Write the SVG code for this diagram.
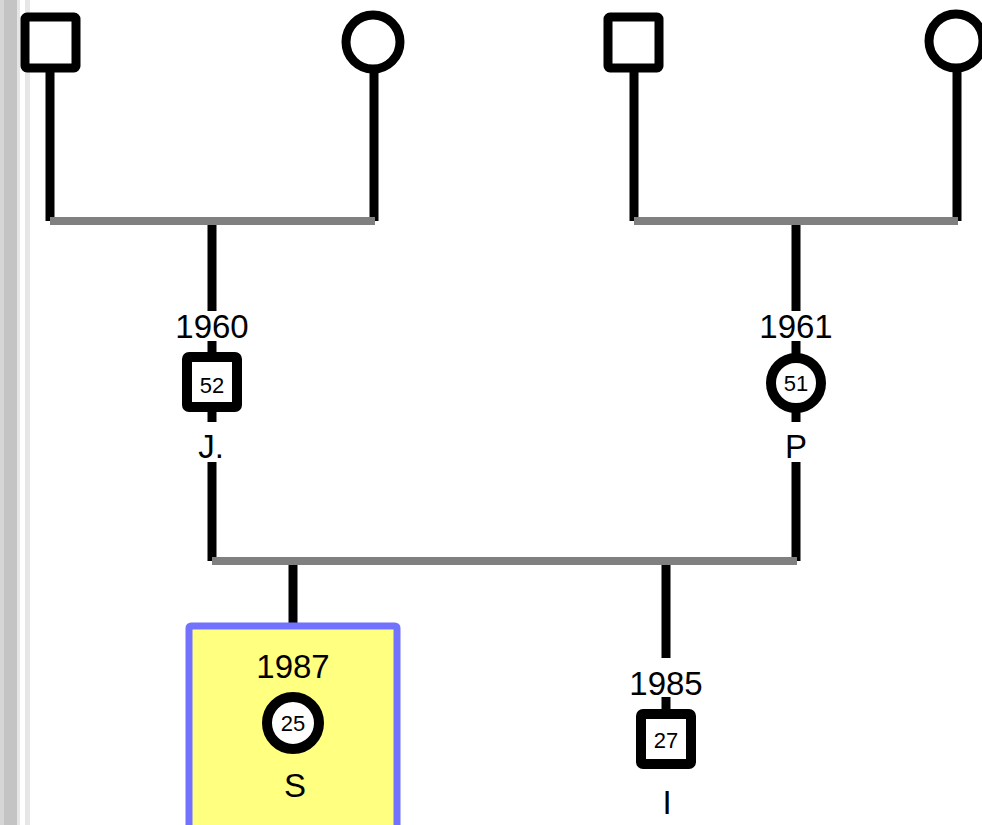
<svg xmlns="http://www.w3.org/2000/svg" width="982" height="825" viewBox="0 0 982 825">
<style>
.v{stroke:#000;stroke-width:9;fill:none}
.h{stroke:#808080;stroke-width:8;fill:none}
.sq{fill:#fff;stroke:#000;stroke-width:9;stroke-linejoin:round}
.sq2{fill:#fff;stroke:#000;stroke-width:10;stroke-linejoin:round}
.ci{fill:#fff;stroke:#000;stroke-width:9}
.ci2{fill:#fff;stroke:#000;stroke-width:10}
.yr{font-family:"Liberation Sans",Arial,sans-serif;font-size:33px;fill:#000;text-anchor:middle}
.age{font-family:"Liberation Sans",Arial,sans-serif;font-size:22px;fill:#000;text-anchor:middle}
.nm{font-family:"Liberation Sans",Arial,sans-serif;font-size:33px;fill:#000;text-anchor:middle}
</style>
<rect x="0" y="0" width="982" height="825" fill="#fff"/>
<g id="sidebar">
<rect x="0" y="0" width="4" height="825" fill="#d6d6d6"/>
<rect x="4" y="0" width="13" height="825" fill="#c4c4c4"/>
<rect x="17" y="0" width="3" height="825" fill="#e6e6e6"/>
<rect x="25" y="0" width="5" height="825" fill="#e6e6e6"/>
</g>
<g id="connectors">
<line class="v" x1="50" y1="70" x2="50" y2="221"/>
<line class="v" x1="374" y1="70" x2="374" y2="221"/>
<line class="h" x1="50" y1="221" x2="375" y2="221"/>
<line class="v" x1="634" y1="70" x2="634" y2="221"/>
<line class="v" x1="957" y1="70" x2="957" y2="221"/>
<line class="h" x1="634" y1="221" x2="958" y2="221"/>
<line class="v" x1="212" y1="225" x2="212" y2="311"/>
<line class="v" x1="212" y1="341" x2="212" y2="356"/>
<line class="v" x1="212" y1="408" x2="212" y2="422"/>
<line class="v" x1="212" y1="462" x2="212" y2="561"/>
<line class="v" x1="796" y1="225" x2="796" y2="311"/>
<line class="v" x1="796" y1="341" x2="796" y2="356"/>
<line class="v" x1="796" y1="408" x2="796" y2="422"/>
<line class="v" x1="796" y1="462" x2="796" y2="561"/>
<line class="h" x1="212" y1="561" x2="797" y2="561"/>
<line class="v" x1="293" y1="565" x2="293" y2="624"/>
<line class="v" x1="666" y1="565" x2="666" y2="658"/>
<line class="v" x1="666" y1="697" x2="666" y2="712"/>
</g>
<g id="gf1"><rect class="sq" x="25" y="17" width="51" height="51" rx="2"/></g>
<g id="gm1"><circle class="ci" cx="373" cy="42" r="27"/></g>
<g id="gf2"><rect class="sq" x="608" y="17" width="51" height="51" rx="2"/></g>
<g id="gm2"><circle class="ci" cx="956" cy="41" r="27"/></g>
<g id="j">
<text class="yr" x="212" y="338">1960</text>
<rect class="sq2" x="187" y="357" width="50" height="50" rx="2"/>
<text class="age" x="212" y="393">52</text>
<text class="nm" x="211" y="458">J.</text>
</g>
<g id="p">
<text class="yr" x="796" y="338">1961</text>
<circle class="ci2" cx="796" cy="383" r="25"/>
<text class="age" x="796" y="391">51</text>
<text class="nm" x="796" y="458">P</text>
</g>
<g id="s">
<rect x="189" y="626" width="208" height="203" fill="#ffff80" stroke="#7272ff" stroke-width="7" rx="2"/>
<text class="yr" x="293" y="678">1987</text>
<circle class="ci2" cx="293" cy="723" r="26"/>
<text class="age" x="293" y="731">25</text>
<text class="nm" x="295" y="797">S</text>
</g>
<g id="i">
<text class="yr" x="666" y="695">1985</text>
<rect class="sq2" x="641" y="714" width="50" height="50" rx="2"/>
<text class="age" x="666" y="748">27</text>
<text class="nm" x="667" y="814">I</text>
</g>
</svg>
